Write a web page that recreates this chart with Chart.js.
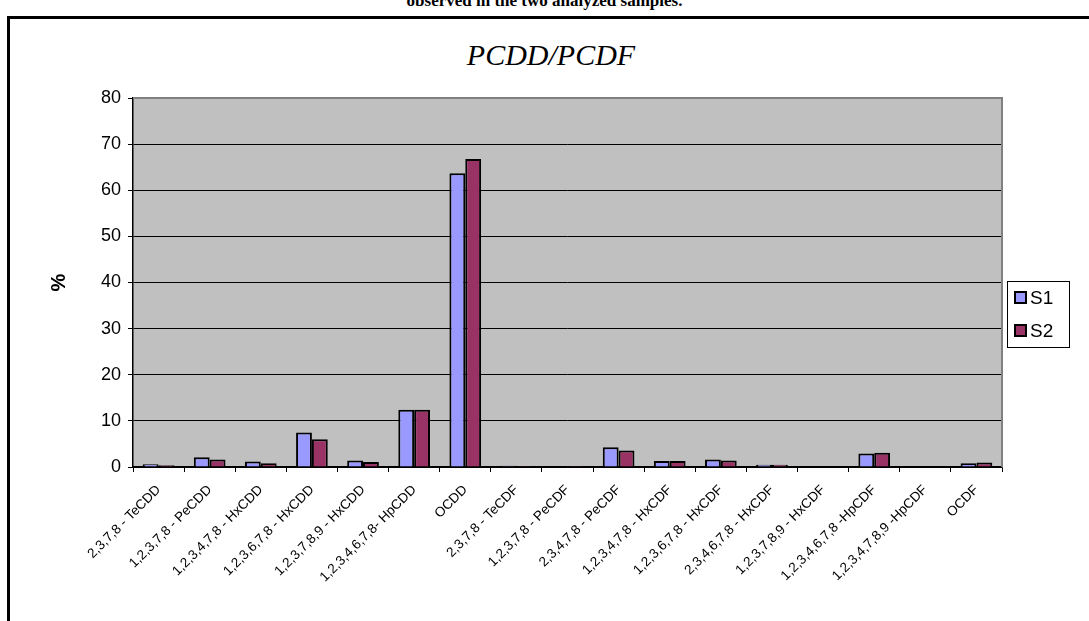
<!DOCTYPE html>
<html>
<head>
<meta charset="utf-8">
<script src="https://cdn.jsdelivr.net/npm/chart.js@4"></script>
<style>
    html, body { margin: 0; padding: 0; background: #fff; overflow: hidden; }
    #wrap { position: relative; width: 1089px; height: 621px; }
    #caption {
        position: absolute; left: 0; top: -9px; width: 1089px; text-align: center;
        font: bold 17px "Liberation Serif", "Times New Roman", serif; color: #000;
    }
    #frame {
        position: absolute; left: 7px; top: 16px; width: 1200px; height: 800px;
        border: 3px solid #000; box-sizing: border-box;
    }
    #title {
        position: absolute; left: 0; top: 38px; width: 1102px; text-align: center;
        font: italic 30px "Liberation Serif", "Times New Roman", serif; color: #000;
    }
    canvas { position: absolute; left: 0; top: 0; }
</style>
</head>
<body>
<div id="wrap">
    <div id="caption">observed in the two analyzed samples.</div>
    <div id="frame"></div>
    <div id="title">PCDD/PCDF</div>
    <canvas id="pcddChart" width="1089" height="621"></canvas>
</div>
<script>
const categories = [
    '2,3,7,8 - TeCDD', '1,2,3,7,8 - PeCDD', '1,2,3,4,7,8 - HxCDD', '1,2,3,6,7,8 - HxCDD',
    '1,2,3,7,8,9 - HxCDD', '1,2,3,4,6,7,8- HpCDD', 'OCDD', '2,3,7,8 - TeCDF',
    '1,2,3,7,8 - PeCDF', '2,3,4,7,8 - PeCDF', '1,2,3,4,7,8 - HxCDF', '1,2,3,6,7,8 - HxCDF',
    '2,3,4,6,7,8 - HxCDF', '1,2,3,7,8,9 - HxCDF', '1,2,3,4,6,7,8 -HpCDF', '1,2,3,4,7,8,9 -HpCDF',
    'OCDF'
];
const s1Values = [0.6, 2.1, 1.2, 7.5, 1.4, 12.4, 63.7, 0.25, 0, 4.3, 1.3, 1.6, 0.5, 0, 2.9, 0, 0.8];
const s2Values = [0.4, 1.6, 0.8, 6.0, 1.1, 12.4, 66.8, 0.2, 0.2, 3.6, 1.3, 1.4, 0.5, 0, 3.1, 0, 1.0];
const yTicks = [0, 10, 20, 30, 40, 50, 60, 70, 80];

const seriesNames = ['S1', 'S2'];
const seriesColors = ['#9999FF', '#993366'];

// grey plot area + legend box like the Excel original
const excelLook = {
    id: 'excelLook',
    beforeDraw(chart) {
        const { ctx, chartArea: a } = chart;
        ctx.save();
        ctx.fillStyle = '#C0C0C0';
        ctx.fillRect(a.left, a.top, a.right - a.left, a.bottom - a.top);
        ctx.restore();
    },
    beforeDatasetsDraw(chart) {
        const { ctx, chartArea: a } = chart;
        ctx.save();
        ctx.strokeStyle = '#808080';
        ctx.lineWidth = 2;
        ctx.beginPath();
        ctx.moveTo(a.left, a.top);
        ctx.lineTo(a.right, a.top);
        ctx.lineTo(a.right, a.bottom);
        ctx.stroke();
        ctx.restore();
    },
    afterDraw(chart) {
        const ctx = chart.ctx;
        const x = 1007, y = 281, w = 62, h = 66;
        ctx.save();
        ctx.fillStyle = '#fff';
        ctx.fillRect(x, y, w, h);
        ctx.strokeStyle = '#000';
        ctx.lineWidth = 1;
        ctx.strokeRect(x + 0.5, y + 0.5, w, h);
        ctx.font = '19px "Liberation Sans", Arial, sans-serif';
        ctx.textBaseline = 'middle';
        chart.data.datasets.forEach((ds, i) => {
            const cy = y + 17 + i * 33;
            ctx.fillStyle = ds.backgroundColor;
            ctx.fillRect(x + 8, cy - 6, 11, 11);
            ctx.lineWidth = 2;
            ctx.strokeRect(x + 8, cy - 6, 11, 11);
            ctx.fillStyle = '#000';
            ctx.fillText(ds.label, x + 23, cy + 1);
        });
        ctx.restore();
    }
};

new Chart(document.getElementById('pcddChart').getContext('2d'), {
    type: 'bar',
    data: {
        labels: categories,
        datasets: seriesNames.map((name, i) => ({
            label: name,
            data: i === 0 ? s1Values : s2Values,
            backgroundColor: seriesColors[i],
            borderColor: '#000',
            borderWidth: 2,
            barPercentage: 1,
            categoryPercentage: 0.62
        }))
    },
    options: {
        responsive: false,
        animation: false,
        layout: { padding: { left: 10, top: 98, right: 87, bottom: 0 } },
        plugins: { legend: { display: false }, tooltip: { enabled: false } },
        scales: {
            x: {
                grid: { drawOnChartArea: false, drawTicks: true, tickLength: 5, color: '#000', offset: true },
                border: { color: '#000', width: 1.5 },
                ticks: {
                    autoSkip: false, minRotation: 45, maxRotation: 45, padding: 10,
                    color: '#000', font: { family: '"Liberation Sans", Arial, sans-serif', size: 13.5 }
                },
                afterFit(scale) { scale.height = 154; }
            },
            y: {
                min: 0, max: 80,
                afterBuildTicks(scale) { scale.ticks = yTicks.map(v => ({ value: v })); },
                grid: {
                    color: ctx => (ctx.tick && ctx.tick.value === 80 ? '#808080' : '#000'),
                    tickColor: '#000', tickLength: 5, lineWidth: 1
                },
                border: { color: '#000', width: 1.5 },
                ticks: {
                    padding: 7, color: '#000',
                    font: { family: '"Liberation Sans", Arial, sans-serif', size: 18 }
                },
                title: {
                    display: true, text: '%', color: '#000', padding: { top: 37, bottom: 0 },
                    font: { family: '"Liberation Sans", Arial, sans-serif', size: 20, weight: 'bold' }
                },
                afterFit(scale) { scale.width = 123; }
            }
        }
    },
    plugins: [excelLook]
});
</script>
</body>
</html>
